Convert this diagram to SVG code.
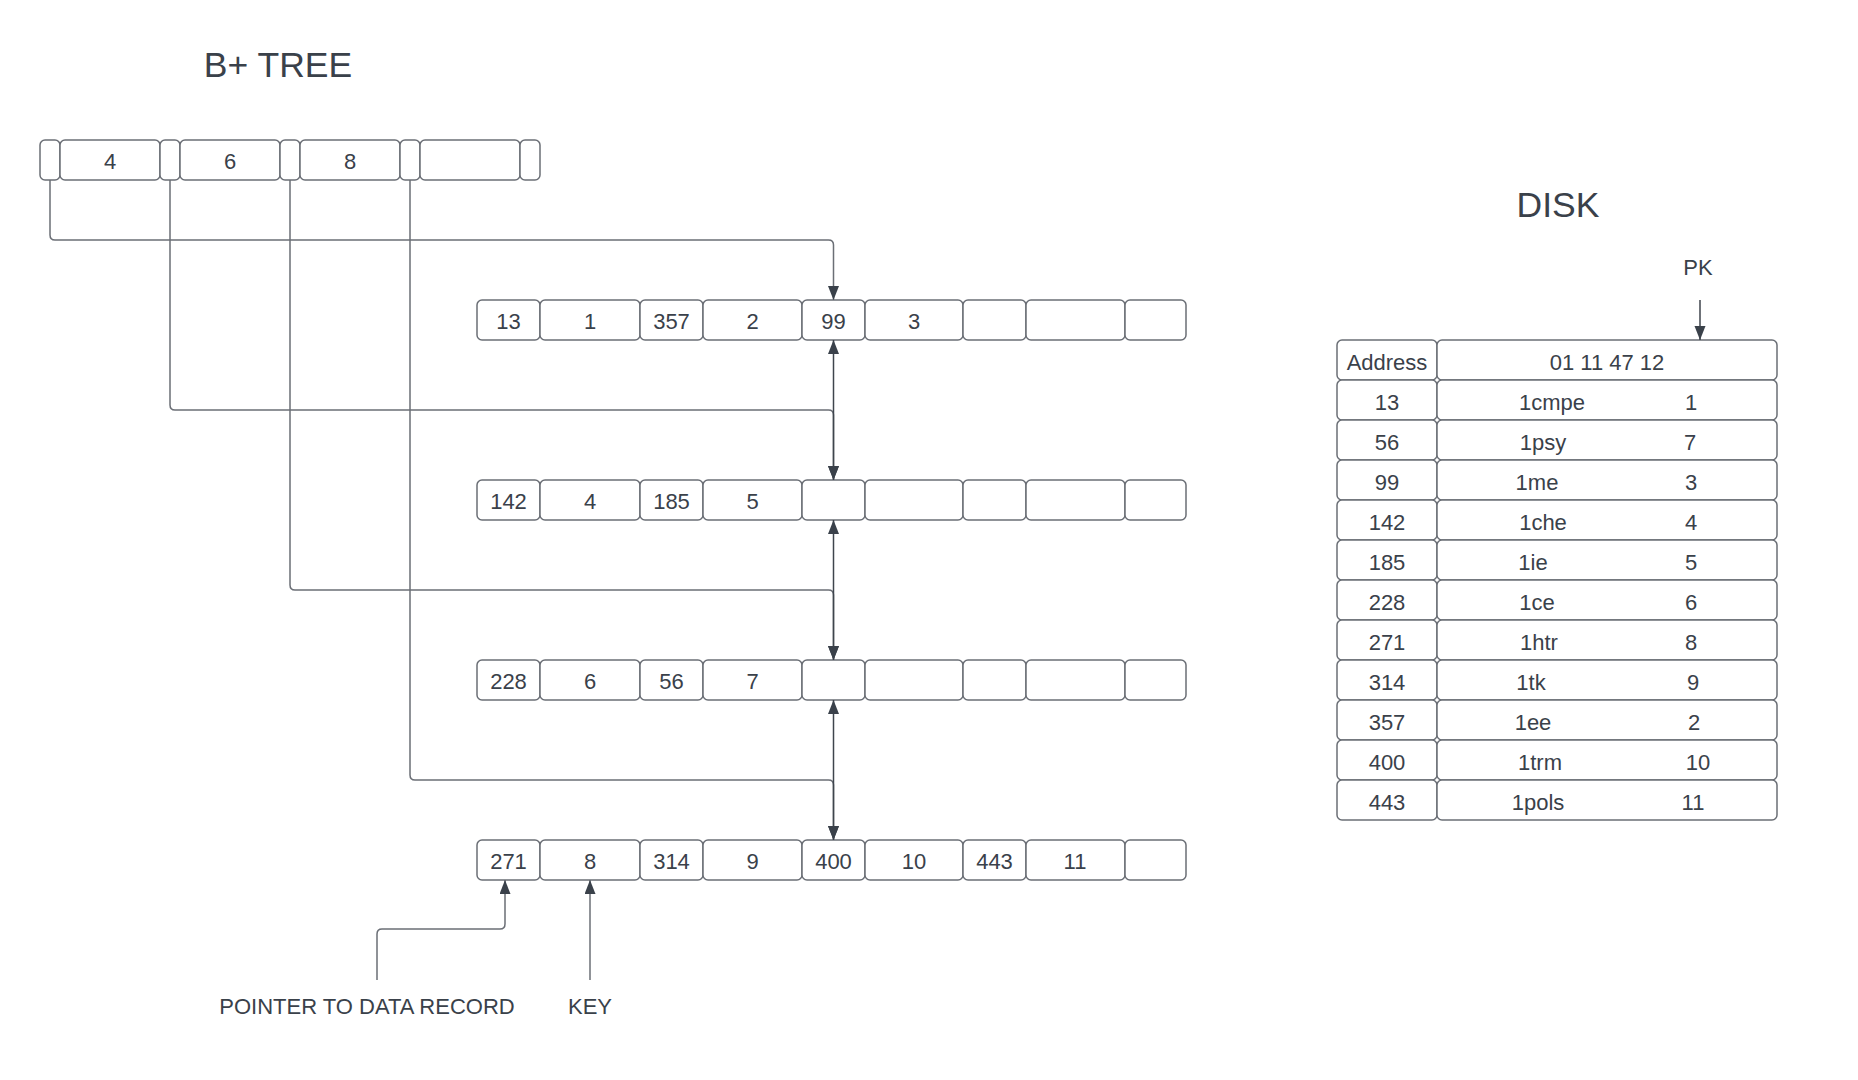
<svg xmlns="http://www.w3.org/2000/svg" width="1858" height="1080" viewBox="0 0 1858 1080">
<style>
.bx{fill:#ffffff;stroke:#6b6f76;stroke-width:1.5}
.t{font-family:"Liberation Sans",Arial,sans-serif;font-size:22px;fill:#3a414a;text-anchor:middle}
.h{font-family:"Liberation Sans",Arial,sans-serif;font-size:35.5px;fill:#3a414a;text-anchor:middle}
.c{fill:none;stroke:#6b6f76;stroke-width:1.5}
.d{fill:none;stroke:#3f454d;stroke-width:1.5}
</style>
<defs>
<marker id="ah" markerUnits="userSpaceOnUse" markerWidth="15" markerHeight="12" refX="14" refY="5.5" orient="auto-start-reverse">
<path d="M0,0 L14,5.5 L0,11 z" fill="#3a414a"/>
</marker>
</defs>
<rect width="1858" height="1080" fill="#ffffff"/>
<text class="h" x="278" y="77">B+ TREE</text>
<text class="h" x="1558" y="217">DISK</text>

<g id="root">
<rect class="bx" x="40" y="140" width="20" height="40" rx="5"/>
<rect class="bx" x="60" y="140" width="100" height="40" rx="5"/>
<rect class="bx" x="160" y="140" width="20" height="40" rx="5"/>
<rect class="bx" x="180" y="140" width="100" height="40" rx="5"/>
<rect class="bx" x="280" y="140" width="20" height="40" rx="5"/>
<rect class="bx" x="300" y="140" width="100" height="40" rx="5"/>
<rect class="bx" x="400" y="140" width="20" height="40" rx="5"/>
<rect class="bx" x="420" y="140" width="100" height="40" rx="5"/>
<rect class="bx" x="520" y="140" width="20" height="40" rx="5"/>
<text class="t" x="110" y="169">4</text>
<text class="t" x="230" y="169">6</text>
<text class="t" x="350" y="169">8</text>
</g>

<g id="leaf1">
<rect class="bx" x="477" y="300" width="63" height="40" rx="5"/>
<rect class="bx" x="540" y="300" width="100" height="40" rx="5"/>
<rect class="bx" x="640" y="300" width="63" height="40" rx="5"/>
<rect class="bx" x="703" y="300" width="99" height="40" rx="5"/>
<rect class="bx" x="802" y="300" width="63" height="40" rx="5"/>
<rect class="bx" x="865" y="300" width="98" height="40" rx="5"/>
<rect class="bx" x="963" y="300" width="63" height="40" rx="5"/>
<rect class="bx" x="1026" y="300" width="99" height="40" rx="5"/>
<rect class="bx" x="1125" y="300" width="61" height="40" rx="5"/>
<text class="t" x="508.5" y="329">13</text>
<text class="t" x="590" y="329">1</text>
<text class="t" x="671.5" y="329">357</text>
<text class="t" x="752.5" y="329">2</text>
<text class="t" x="833.5" y="329">99</text>
<text class="t" x="914" y="329">3</text>
</g>

<g id="leaf2">
<rect class="bx" x="477" y="480" width="63" height="40" rx="5"/>
<rect class="bx" x="540" y="480" width="100" height="40" rx="5"/>
<rect class="bx" x="640" y="480" width="63" height="40" rx="5"/>
<rect class="bx" x="703" y="480" width="99" height="40" rx="5"/>
<rect class="bx" x="802" y="480" width="63" height="40" rx="5"/>
<rect class="bx" x="865" y="480" width="98" height="40" rx="5"/>
<rect class="bx" x="963" y="480" width="63" height="40" rx="5"/>
<rect class="bx" x="1026" y="480" width="99" height="40" rx="5"/>
<rect class="bx" x="1125" y="480" width="61" height="40" rx="5"/>
<text class="t" x="508.5" y="509">142</text>
<text class="t" x="590" y="509">4</text>
<text class="t" x="671.5" y="509">185</text>
<text class="t" x="752.5" y="509">5</text>
</g>

<g id="leaf3">
<rect class="bx" x="477" y="660" width="63" height="40" rx="5"/>
<rect class="bx" x="540" y="660" width="100" height="40" rx="5"/>
<rect class="bx" x="640" y="660" width="63" height="40" rx="5"/>
<rect class="bx" x="703" y="660" width="99" height="40" rx="5"/>
<rect class="bx" x="802" y="660" width="63" height="40" rx="5"/>
<rect class="bx" x="865" y="660" width="98" height="40" rx="5"/>
<rect class="bx" x="963" y="660" width="63" height="40" rx="5"/>
<rect class="bx" x="1026" y="660" width="99" height="40" rx="5"/>
<rect class="bx" x="1125" y="660" width="61" height="40" rx="5"/>
<text class="t" x="508.5" y="689">228</text>
<text class="t" x="590" y="689">6</text>
<text class="t" x="671.5" y="689">56</text>
<text class="t" x="752.5" y="689">7</text>
</g>

<g id="leaf4">
<rect class="bx" x="477" y="840" width="63" height="40" rx="5"/>
<rect class="bx" x="540" y="840" width="100" height="40" rx="5"/>
<rect class="bx" x="640" y="840" width="63" height="40" rx="5"/>
<rect class="bx" x="703" y="840" width="99" height="40" rx="5"/>
<rect class="bx" x="802" y="840" width="63" height="40" rx="5"/>
<rect class="bx" x="865" y="840" width="98" height="40" rx="5"/>
<rect class="bx" x="963" y="840" width="63" height="40" rx="5"/>
<rect class="bx" x="1026" y="840" width="99" height="40" rx="5"/>
<rect class="bx" x="1125" y="840" width="61" height="40" rx="5"/>
<text class="t" x="508.5" y="869">271</text>
<text class="t" x="590" y="869">8</text>
<text class="t" x="671.5" y="869">314</text>
<text class="t" x="752.5" y="869">9</text>
<text class="t" x="833.5" y="869">400</text>
<text class="t" x="914" y="869">10</text>
<text class="t" x="994.5" y="869">443</text>
<text class="t" x="1075" y="869">11</text>
</g>

<g id="disk">
<rect class="bx" x="1337" y="340" width="100" height="40" rx="5"/>
<rect class="bx" x="1437" y="340" width="340" height="40" rx="5"/>
<text class="t" x="1387" y="369.5">Address</text>
<text class="t" x="1607" y="369.5">01 11 47 12</text>
<rect class="bx" x="1337" y="380" width="100" height="40" rx="5"/><rect class="bx" x="1437" y="380" width="340" height="40" rx="5"/>
<rect class="bx" x="1337" y="420" width="100" height="40" rx="5"/><rect class="bx" x="1437" y="420" width="340" height="40" rx="5"/>
<rect class="bx" x="1337" y="460" width="100" height="40" rx="5"/><rect class="bx" x="1437" y="460" width="340" height="40" rx="5"/>
<rect class="bx" x="1337" y="500" width="100" height="40" rx="5"/><rect class="bx" x="1437" y="500" width="340" height="40" rx="5"/>
<rect class="bx" x="1337" y="540" width="100" height="40" rx="5"/><rect class="bx" x="1437" y="540" width="340" height="40" rx="5"/>
<rect class="bx" x="1337" y="580" width="100" height="40" rx="5"/><rect class="bx" x="1437" y="580" width="340" height="40" rx="5"/>
<rect class="bx" x="1337" y="620" width="100" height="40" rx="5"/><rect class="bx" x="1437" y="620" width="340" height="40" rx="5"/>
<rect class="bx" x="1337" y="660" width="100" height="40" rx="5"/><rect class="bx" x="1437" y="660" width="340" height="40" rx="5"/>
<rect class="bx" x="1337" y="700" width="100" height="40" rx="5"/><rect class="bx" x="1437" y="700" width="340" height="40" rx="5"/>
<rect class="bx" x="1337" y="740" width="100" height="40" rx="5"/><rect class="bx" x="1437" y="740" width="340" height="40" rx="5"/>
<rect class="bx" x="1337" y="780" width="100" height="40" rx="5"/><rect class="bx" x="1437" y="780" width="340" height="40" rx="5"/>
<text class="t" x="1387" y="409.5">13</text><text class="t" x="1552" y="409.5">1cmpe</text><text class="t" x="1691" y="409.5">1</text>
<text class="t" x="1387" y="449.5">56</text><text class="t" x="1543" y="449.5">1psy</text><text class="t" x="1690" y="449.5">7</text>
<text class="t" x="1387" y="489.5">99</text><text class="t" x="1537" y="489.5">1me</text><text class="t" x="1691" y="489.5">3</text>
<text class="t" x="1387" y="529.5">142</text><text class="t" x="1543" y="529.5">1che</text><text class="t" x="1691" y="529.5">4</text>
<text class="t" x="1387" y="569.5">185</text><text class="t" x="1533" y="569.5">1ie</text><text class="t" x="1691" y="569.5">5</text>
<text class="t" x="1387" y="609.5">228</text><text class="t" x="1537" y="609.5">1ce</text><text class="t" x="1691" y="609.5">6</text>
<text class="t" x="1387" y="649.5">271</text><text class="t" x="1539" y="649.5">1htr</text><text class="t" x="1691" y="649.5">8</text>
<text class="t" x="1387" y="689.5">314</text><text class="t" x="1531" y="689.5">1tk</text><text class="t" x="1693" y="689.5">9</text>
<text class="t" x="1387" y="729.5">357</text><text class="t" x="1533" y="729.5">1ee</text><text class="t" x="1694" y="729.5">2</text>
<text class="t" x="1387" y="769.5">400</text><text class="t" x="1540" y="769.5">1trm</text><text class="t" x="1698" y="769.5">10</text>
<text class="t" x="1387" y="809.5">443</text><text class="t" x="1538" y="809.5">1pols</text><text class="t" x="1693" y="809.5">11</text>
</g>

<g id="labels">
<text class="t" x="1698" y="275">PK</text>
<text class="t" x="367" y="1014">POINTER TO DATA RECORD</text>
<text class="t" x="590" y="1014">KEY</text>
</g>

<g id="connectors">
<path class="c" d="M50 180 V235 Q50 240 55 240 H828.5 Q833.5 240 833.5 245 V300" marker-end="url(#ah)"/>
<path class="c" d="M170 180 V405 Q170 410 175 410 H828.5 Q833.5 410 833.5 415 V480" marker-end="url(#ah)"/>
<path class="c" d="M290 180 V585 Q290 590 295 590 H828.5 Q833.5 590 833.5 595 V660" marker-end="url(#ah)"/>
<path class="c" d="M410 180 V775 Q410 780 415 780 H828.5 Q833.5 780 833.5 785 V840" marker-end="url(#ah)"/>
<path class="d" d="M833.5 340 V480" marker-start="url(#ah)" marker-end="url(#ah)"/>
<path class="d" d="M833.5 520 V660" marker-start="url(#ah)" marker-end="url(#ah)"/>
<path class="d" d="M833.5 700 V840" marker-start="url(#ah)" marker-end="url(#ah)"/>
<path class="c" d="M377 980 V934 Q377 929 382 929 H500 Q505 929 505 924 V880" marker-end="url(#ah)"/>
<path class="c" d="M590 980 V880" marker-end="url(#ah)"/>
<path class="d" d="M1700 300 V340" marker-end="url(#ah)"/>
</g>
</svg>
